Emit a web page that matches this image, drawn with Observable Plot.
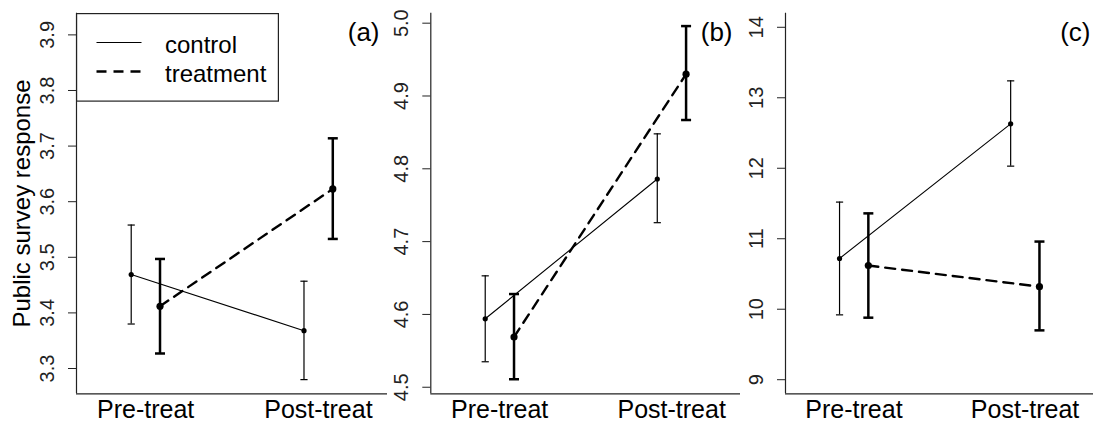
<!DOCTYPE html>
<html>
<head>
<meta charset="utf-8">
<script src="https://cdn.jsdelivr.net/npm/d3@7"></script>
<script src="https://cdn.jsdelivr.net/npm/@observablehq/plot@0.6"></script>
<style>
  body { margin: 0; background: #fff; font-family: "Liberation Sans", Arial, sans-serif; }
  #wrap { position: relative; width: 1093px; height: 423px; display: flex; overflow: hidden; }
  #wrap svg { display: block; flex: none; }
  #legend { position: absolute; left: 76px; top: 12.5px; width: 203px; height: 88.5px; }
</style>
</head>
<body>
<div id="wrap"></div>
<script>
// ---- data ----
const categories = ["Pre-treat", "Post-treat"];
const groups = ["control", "treatment"];
const panelNames = ["(a)", "(b)", "(c)"];
const yAxisTitle = "Public survey response";

// panel (a)
const aControlMean = [3.469, 3.368];
const aControlLo   = [3.380, 3.280];
const aControlHi   = [3.558, 3.457];
const aTreatMean   = [3.412, 3.623];
const aTreatLo     = [3.327, 3.533];
const aTreatHi     = [3.497, 3.714];
const aTicks = [3.3, 3.4, 3.5, 3.6, 3.7, 3.8, 3.9];

// panel (b)
const bControlMean = [4.594, 4.786];
const bControlLo   = [4.535, 4.726];
const bControlHi   = [4.653, 4.848];
const bTreatMean   = [4.569, 4.930];
const bTreatLo     = [4.511, 4.867];
const bTreatHi     = [4.628, 4.996];
const bTicks = [4.5, 4.6, 4.7, 4.8, 4.9, 5.0];

// panel (c)
const cControlMean = [10.72, 12.63];
const cControlLo   = [9.92, 12.03];
const cControlHi   = [11.52, 13.24];
const cTreatMean   = [10.62, 10.32];
const cTreatLo     = [9.88, 9.70];
const cTreatHi     = [11.36, 10.96];
const cTicks = [9, 10, 11, 12, 13, 14];

// axis limits
const xLimits = [0.6, 2.4];
const aLimits = [3.2545, 3.939];
const bLimits = [4.491, 5.0137];
const cLimits = [8.8, 14.2];

// ---- build ----
function rows(mean, lo, hi, group) {
  return categories.map((c, i) => ({pos: i + 1, label: c, mean: mean[i], lo: lo[i], hi: hi[i], group}));
}

const capSymbol = {
  draw(context, size) {
    const r = Math.sqrt(size / Math.PI);
    context.moveTo(-r, 0);
    context.lineTo(r, 0);
  }
};

const FONT = '"Liberation Sans", Arial, Helvetica, sans-serif';
const OFF = 14.4;

function seriesMarks(data, dx, sw, cap, dotR, dash) {
  return [
    Plot.line(data, {x: "pos", y: "mean", dx, stroke: "#000", strokeWidth: dash ? 2.4 : 1.1, strokeDasharray: dash ? "10,7" : null}),
    Plot.ruleX(data, {x: "pos", y1: "lo", y2: "hi", dx, stroke: "#000", strokeWidth: sw}),
    Plot.dot(data, {x: "pos", y: "hi", dx, symbol: capSymbol, r: cap, fill: "none", stroke: "#000", strokeWidth: sw}),
    Plot.dot(data, {x: "pos", y: "lo", dx, symbol: capSymbol, r: cap, fill: "none", stroke: "#000", strokeWidth: sw}),
    Plot.dot(data, {x: "pos", y: "mean", dx, r: dotR, fill: "#000", stroke: "none"})
  ];
}

function panel(cfg) {
  const ctrl = rows(cfg.cm, cfg.cl, cfg.ch, groups[0]);
  const trt = rows(cfg.tm, cfg.tl, cfg.th, groups[1]);
  const marks = [
    Plot.ruleX([xLimits[0]], {stroke: "#222", strokeWidth: 1.2}),
    Plot.ruleY([cfg.lim[0]], {stroke: "#222", strokeWidth: 1.2}),
    Plot.axisY({ticks: cfg.ticks, tickFormat: cfg.fmt, tickSize: 8, tickPadding: 15, tickRotate: -90,
      textAnchor: "middle", lineAnchor: "bottom", fontSize: 20, label: null, stroke: "#222", fill: "#222"}),
    Plot.axisX({ticks: [1, 2], tickFormat: d => categories[d - 1], tickSize: 0, tickPadding: 6,
      fontSize: 25, label: null, fill: "#000"}),
    ...seriesMarks(ctrl, -OFF, 1.2, 3.6, 2.6, false),
    ...seriesMarks(trt, OFF, 2.5, 5, 3.6, true),
    Plot.text([cfg.name], {frameAnchor: "top-right", textAnchor: "end", lineAnchor: "top",
      dx: cfg.nameDx, dy: 9, fontSize: 26, fill: "#000"})
  ];
  if (cfg.title) {
    marks.push(Plot.text([cfg.title], {frameAnchor: "left", rotate: -90, textAnchor: "middle", lineAnchor: "top",
      dx: -64, fontSize: 24, fill: "#000"}));
  }
  return Plot.plot({
    width: cfg.width, height: 423,
    marginLeft: cfg.ml, marginRight: 0, marginTop: 12.7, marginBottom: 29.7,
    x: {type: "linear", domain: xLimits, axis: null},
    y: {type: "linear", domain: cfg.lim, axis: null, label: null},
    style: {fontFamily: FONT, color: "#000", background: "transparent", overflow: "visible"},
    marks
  });
}

const wrap = document.getElementById("wrap");
const f1 = d3.format(".1f");
wrap.append(panel({width: 387, ml: 76, lim: aLimits, ticks: aTicks, fmt: f1, name: panelNames[0], nameDx: -8, title: yAxisTitle,
  cm: aControlMean, cl: aControlLo, ch: aControlHi, tm: aTreatMean, tl: aTreatLo, th: aTreatHi}));
wrap.append(panel({width: 353, ml: 43.3, lim: bLimits, ticks: bTicks, fmt: f1, name: panelNames[1], nameDx: -8,
  cm: bControlMean, cl: bControlLo, ch: bControlHi, tm: bTreatMean, tl: bTreatLo, th: bTreatHi}));
wrap.append(panel({width: 353, ml: 45, lim: cLimits, ticks: cTicks, fmt: d3.format("d"), name: panelNames[2], nameDx: -3,
  cm: cControlMean, cl: cControlLo, ch: cControlHi, tm: cTreatMean, tl: cTreatLo, th: cTreatHi}));

// legend (inside panel a)
const legend = document.createElement("div");
legend.id = "legend";
legend.innerHTML = `
<svg width="203" height="89" xmlns="http://www.w3.org/2000/svg" style="font-family:${FONT.replace(/"/g, "'")}">
  <rect x="0.6" y="0.6" width="201.8" height="87.5" fill="#fff" stroke="#222" stroke-width="1.2"/>
  <line x1="20.5" x2="65.5" y1="29.5" y2="29.5" stroke="#000" stroke-width="1.1"/>
  <line x1="20.5" x2="65.5" y1="58.5" y2="58.5" stroke="#000" stroke-width="2.4" stroke-dasharray="10,7"/>
  <text x="89" y="39.5" font-size="24" fill="#000">${groups[0]}</text>
  <text x="89" y="68.5" font-size="24" fill="#000">${groups[1]}</text>
</svg>`;
wrap.appendChild(legend);
</script>
</body>
</html>
